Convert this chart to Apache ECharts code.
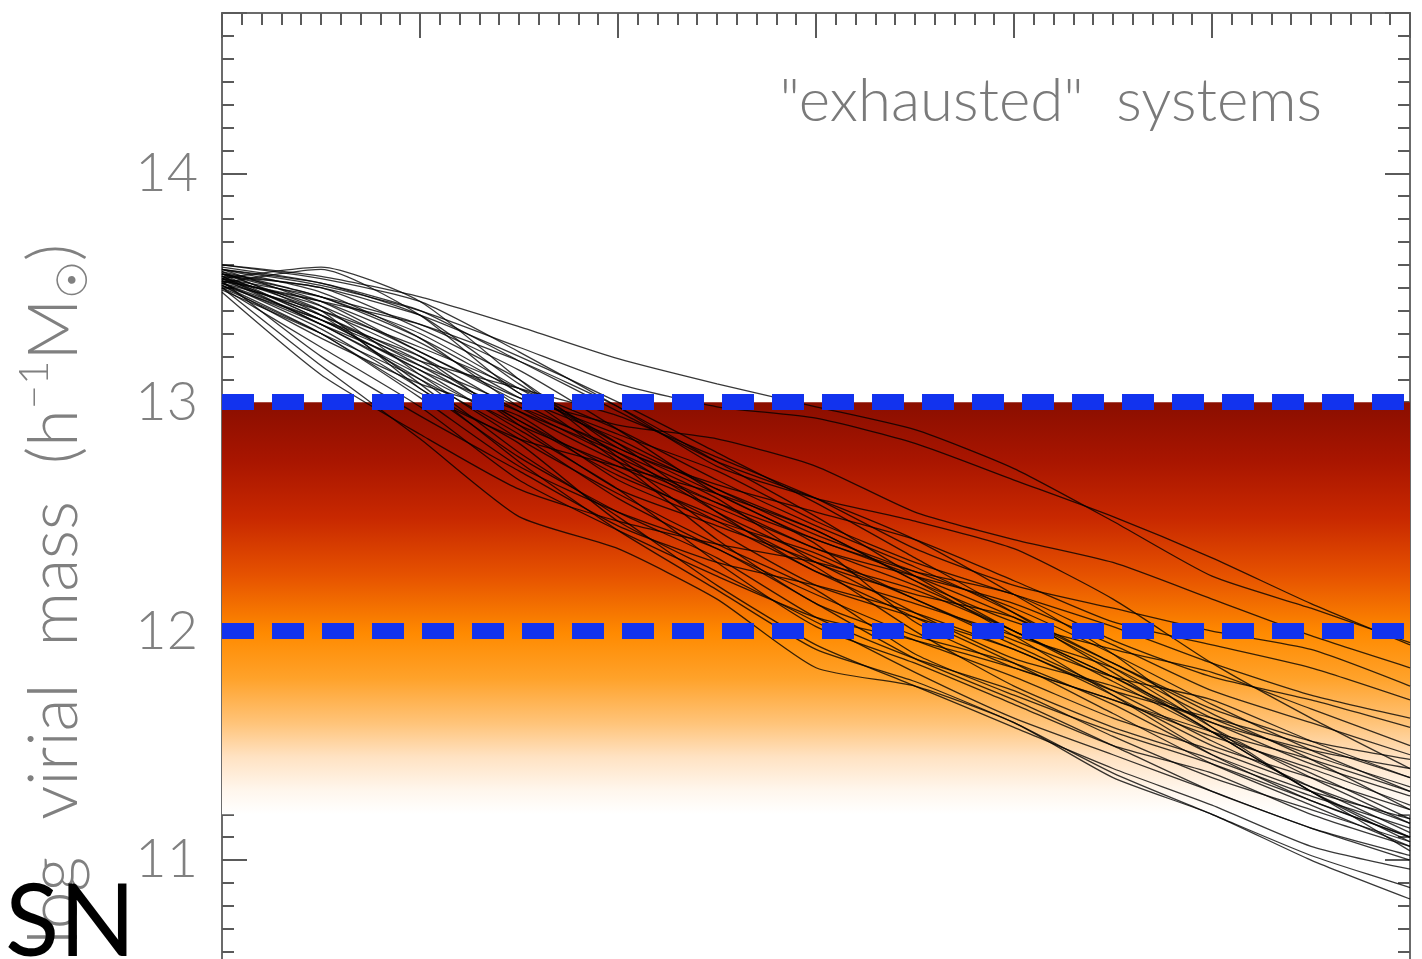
<!DOCTYPE html>
<html>
<head>
<meta charset="utf-8">
<title>exhausted systems</title>
<script src="https://cdn.jsdelivr.net/npm/echarts@6/dist/echarts.min.js"></script>
<style>
  html, body { margin: 0; padding: 0; background: #fff; }
  #main { width: 1422px; height: 959px; }
</style>
</head>
<body>
<div id="main"></div>
<script>
// sample points along x (top axis 0..6)
var xs = [0, 0.5, 1, 1.5, 2, 2.5, 3, 3.5, 4, 4.5, 5, 5.5, 6];

// mass histories, log M at each xs
var h01 = [13.60,13.55,13.46,13.33,13.19,13.08,12.98,12.88,12.71,12.48,12.24,12.10,11.95];
var h02 = [13.58,13.51,13.40,13.24,13.08,12.98,12.93,12.82,12.66,12.50,12.32,12.12,11.94];
var h03 = [13.56,13.44,13.22,13.02,12.90,12.84,12.72,12.52,12.40,12.30,12.14,11.98,11.84];
var h04 = [13.60,13.54,13.44,13.22,12.98,12.72,12.58,12.48,12.36,12.14,11.86,11.62,11.40];
var h05 = [13.52,13.36,13.18,13.06,12.94,12.76,12.58,12.36,12.20,12.10,12.00,11.92,11.76];
var h06 = [13.55,13.50,13.32,13.10,12.80,12.64,12.52,12.40,12.22,12.04,11.94,11.84,11.70];
var h07 = [13.52,13.58,13.38,13.04,12.86,12.70,12.48,12.30,12.16,12.02,11.86,11.72,11.62];
var h08 = [13.54,13.46,13.34,13.14,12.88,12.60,12.40,12.26,12.16,11.96,11.80,11.70,11.58];
var h09 = [13.50,13.30,13.04,12.84,12.72,12.60,12.44,12.22,12.04,11.92,11.82,11.66,11.50];
var h10 = [13.58,13.48,13.28,12.98,12.76,12.56,12.36,12.24,12.12,11.94,11.74,11.60,11.46];
var h11 = [13.53,13.44,13.34,13.18,12.98,12.74,12.50,12.24,12.00,11.80,11.56,11.30,11.10];
var h12 = [13.56,13.36,13.14,12.96,12.78,12.58,12.30,12.16,12.06,11.86,11.66,11.52,11.44];
var h13 = [13.51,13.28,13.08,12.94,12.66,12.48,12.34,12.14,11.96,11.80,11.70,11.52,11.36];
var h14 = [13.59,13.52,13.38,13.08,12.82,12.52,12.26,12.12,11.98,11.84,11.62,11.46,11.32];
var h15 = [13.55,13.40,13.20,12.90,12.62,12.46,12.30,12.08,11.88,11.76,11.60,11.42,11.28];
var h16 = [13.52,13.34,13.16,12.98,12.80,12.60,12.38,12.04,11.84,11.70,11.54,11.40,11.24];
var h17 = [13.54,13.59,13.44,13.10,12.76,12.44,12.20,12.06,11.92,11.72,11.50,11.36,11.22];
var h18 = [13.53,13.20,12.94,12.70,12.46,12.30,12.20,12.08,11.92,11.74,11.62,11.50,11.36];
var h19 = [13.49,13.30,13.10,12.86,12.58,12.36,12.16,11.98,11.86,11.68,11.46,11.30,11.18];
var h20 = [13.56,13.46,13.28,13.04,12.74,12.40,12.12,11.96,11.80,11.62,11.48,11.32,11.16];
var h21 = [13.54,13.38,13.18,12.92,12.68,12.50,12.28,12.00,11.76,11.58,11.44,11.28,11.14];
var h22 = [13.50,13.24,12.98,12.66,12.44,12.24,12.06,11.96,11.84,11.70,11.56,11.44,11.30];
var h23 = [13.58,13.42,13.12,12.84,12.60,12.38,12.18,11.90,11.72,11.56,11.42,11.26,11.10];
var h24 = [13.52,13.32,13.06,12.76,12.52,12.32,12.06,11.88,11.74,11.54,11.36,11.22,11.08];
var h25 = [13.55,13.36,13.14,12.88,12.62,12.30,12.02,11.86,11.68,11.50,11.38,11.20,11.06];
var h26 = [13.48,13.12,12.86,12.62,12.48,12.38,12.30,12.18,12.00,11.80,11.60,11.48,11.40];
var h27 = [13.56,13.40,13.06,12.82,12.48,12.26,12.04,11.82,11.62,11.46,11.30,11.14,11.02];
var h28 = [13.51,13.30,13.02,12.72,12.52,12.36,12.12,11.88,11.70,11.50,11.30,11.14,11.00];
var h29 = [13.54,13.34,13.10,12.78,12.50,12.20,11.94,11.76,11.58,11.40,11.24,11.06,10.96];
var h30 = [13.50,13.16,12.84,12.50,12.36,12.14,11.84,11.76,11.60,11.36,11.20,11.00,10.83];
var h31 = [13.57,13.38,13.08,12.74,12.44,12.18,11.92,11.78,11.60,11.38,11.20,11.02,10.88];
var h32 = [13.53,13.44,13.26,13.02,12.84,12.62,12.42,12.26,12.10,11.90,11.68,11.48,11.30];
var h33 = [13.56,13.50,13.38,13.20,13.00,12.78,12.56,12.32,12.08,11.82,11.56,11.30,11.04];
var h34 = [13.52,13.40,13.24,13.06,12.88,12.66,12.46,12.28,12.08,11.86,11.64,11.44,11.22];
var h35 = [13.55,13.34,13.12,12.90,12.72,12.54,12.36,12.20,12.00,11.78,11.56,11.38,11.18];
var h36 = [13.58,13.52,13.40,13.18,12.96,12.74,12.58,12.40,12.16,11.90,11.58,11.30,11.08];
var h37 = [13.51,13.36,13.20,12.96,12.74,12.56,12.40,12.24,12.06,11.84,11.58,11.36,11.16];
var h38 = [13.54,13.42,13.22,13.00,12.78,12.52,12.32,12.14,11.94,11.74,11.52,11.32,11.12];
var h39 = [13.57,13.46,13.30,13.06,12.82,12.62,12.44,12.22,11.98,11.72,11.46,11.26,11.10];
var h40 = [13.53,13.38,13.16,12.92,12.70,12.48,12.26,12.06,11.86,11.64,11.42,11.24,11.06];

var histories = [h01,h02,h03,h04,h05,h06,h07,h08,h09,h10,h11,h12,h13,h14,h15,h16,h17,h18,h19,h20,
                 h21,h22,h23,h24,h25,h26,h27,h28,h29,h30,h31,h32,h33,h34,h35,h36,h37,h38,h39,h40];

var dashedLevels = [12, 13];   // blue dashed limits
var bandTop = 13, bandBottom = 11.2;  // shaded mass band

var myChart = echarts.init(document.getElementById('main'));

var axisGray = '#6b6b6b';
var lightFont = 'Lato, "Open Sans", sans-serif';

function yAxisCfg(pos, step, len, labels) {
    return {
        type: 'value', position: pos, min: 10, max: 14.7, interval: step,
        axisLine: { show: true, onZero: false, lineStyle: { color: axisGray, width: 2 } },
        axisTick: { show: true, inside: true, length: len, lineStyle: { color: '#5a5a5a', width: 2 } },
        axisLabel: labels ? {
            show: true, margin: 24, color: '#808080', fontSize: 54,
            fontFamily: lightFont, fontWeight: 300,
            formatter: function (v) { return Number.isInteger(v) ? String(v) : ''; }
        } : { show: false },
        splitLine: { show: false }
    };
}

var series = histories.map(function (h, k) {
    return {
        name: 'h' + (k + 1), type: 'line', xAxisIndex: 0, yAxisIndex: 0,
        data: xs.map(function (x, i) { return [x, h[i]]; }),
        showSymbol: false, smooth: 0.2, z: 3,
        lineStyle: { color: 'rgba(0,0,0,0.78)', width: 1.3 }
    };
});

// shaded band + dashed limits
series.push({
    type: 'line', data: [], z: 1,
    markArea: {
        silent: true,
        itemStyle: {
            color: new echarts.graphic.LinearGradient(0, 0, 0, 1, [
                { offset: 0, color: '#8a0e00' },
                { offset: 0.14, color: '#a81500' },
                { offset: 0.28, color: '#c82800' },
                { offset: 0.42, color: '#e65200' },
                { offset: 0.56, color: '#ff8a00' },
                { offset: 0.67, color: '#ffa22a' },
                { offset: 0.78, color: '#ffc47a' },
                { offset: 0.86, color: '#ffe2c2' },
                { offset: 0.94, color: '#fff6ec' },
                { offset: 1, color: '#ffffff' }
            ])
        },
        data: [[{ xAxis: xs[0], yAxis: bandTop }, { xAxis: xs[xs.length - 1], yAxis: bandBottom }]]
    }
});
series.push({
    type: 'line', data: [], z: 5,
    markLine: {
        silent: true, symbol: 'none', animation: false,
        label: { show: false },
        lineStyle: { color: '#1233ee', width: 16, type: [32, 18], opacity: 1 },
        data: dashedLevels.map(function (v) { return { yAxis: v }; })
    }
});

var option = {
    animation: false,
    grid: { left: 222, top: 13, width: 1188, height: 1076, outerBoundsMode: 'none', containLabel: false },
    xAxis: {
        type: 'value', position: 'top', min: 0, max: 6, interval: 1,
        axisLine: { show: true, onZero: false, lineStyle: { color: axisGray, width: 2 } },
        axisTick: { show: true, inside: true, length: 25, lineStyle: { color: '#5a5a5a', width: 2 } },
        minorTick: { show: true, splitNumber: 10, length: 12, lineStyle: { color: '#5a5a5a', width: 2 } },
        axisLabel: { show: false },
        splitLine: { show: false }
    },
    yAxis: [
        yAxisCfg('left', 1, 25, true),
        yAxisCfg('left', 0.1, 12, false),
        yAxisCfg('right', 1, 25, false),
        yAxisCfg('right', 0.1, 12, false)
    ],
    graphic: [
        {
            type: 'text', x: 1322, y: 102, z: 10,
            style: {
                text: '"exhausted"  systems', align: 'right', verticalAlign: 'middle',
                fontSize: 60, fontFamily: lightFont, fontWeight: 300, fill: '#7a7a7a'
            }
        },
        {
            type: 'text', x: 55, y: 594, rotation: Math.PI / 2, z: 10,
            style: {
                text: '{n|log  virial  mass  (h}{s|−1}{n|M}{o|☉}{n|)}',
                align: 'center', verticalAlign: 'middle', fill: '#808080',
                rich: {
                    n: { fontSize: 68, fontFamily: lightFont, fontWeight: 300, fill: '#808080', lineHeight: 84 },
                    s: { fontSize: 42, fontFamily: lightFont, fontWeight: 300, fill: '#808080', verticalAlign: 'top', lineHeight: 84 },
                    o: { fontSize: 42, fontFamily: 'DejaVu Sans', fill: '#808080', verticalAlign: 'bottom', lineHeight: 84 }
                }
            }
        },
        {
            type: 'text', x: 5, y: 924, z: 10,
            style: {
                text: 'SN', align: 'left', verticalAlign: 'middle',
                fontSize: 100, fontFamily: lightFont, fontWeight: 400, fill: '#000'
            }
        }
    ],
    series: series
};

myChart.setOption(option);
</script>
</body>
</html>
